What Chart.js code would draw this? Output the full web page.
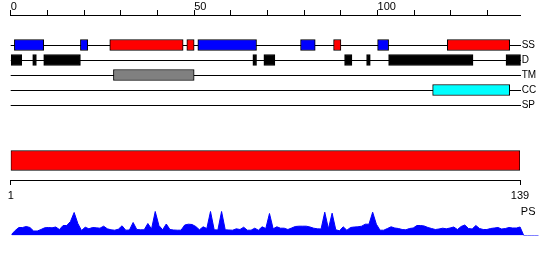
<!DOCTYPE html>
<html>
<head>
<meta charset="utf-8">
<script src="https://cdn.jsdelivr.net/npm/chart.js@4.4.1/dist/chart.umd.min.js"></script>
<style>
  html, body { margin: 0; padding: 0; background: #fff; }
  #wrap { position: relative; width: 550px; height: 260px; }
  canvas { position: absolute; left: 0; }
</style>
</head>
<body>
<div id="wrap">
  <canvas id="tracks" width="550" height="112" style="top:0"></canvas>
  <canvas id="chain" width="550" height="65" style="top:140px"></canvas>
  <canvas id="ps" width="550" height="45" style="top:200px"></canvas>
</div>
<script>
// ruler on top of the feature tracks
const rulerTicks = [0, 10, 20, 30, 40, 50, 60, 70, 80, 90, 100, 110, 120, 130];
const rulerLabels = [0, 50, 100];

// feature tracks (two blank rows keep the gap under the ruler)
const trackLabels = ['', '', 'SS', 'D', 'TM', 'CC', 'SP'];
const ssHelix = [[27, 47], [48, 50], [88, 90], [119, 136]];
const ssStrand = [[1, 9], [19, 21], [51, 67], [79, 83], [100, 103]];
const disorder = [[0, 3], [6, 7], [9, 19], [66, 67], [69, 72], [91, 93], [97, 98], [103, 126], [135, 139]];
const transmembrane = [[28, 50]];
const coiledCoil = [[115, 136]];
const signalPeptide = [];

// whole chain bar
const chainRange = [1, 139];
const chainTicks = [1, 139];

// PS profile, one value per residue (trailing zeros after the chain end)
const psLabel = 'PS';
const psValues = [
	1, 5, 8, 8, 9, 8, 4.5, 4.5, 6, 7.7,
	8, 7.7, 8.5, 6, 10, 10, 14, 23, 12, 5,
	8.3, 6.7, 8, 7.7, 7.3, 9.3, 6.7, 5.7, 5.3, 6.3,
	9.7, 5.3, 5.5, 13, 6, 5.7, 5.7, 12, 6.5, 24,
	10, 5.7, 11.5, 6, 5.5, 5.3, 5.3, 10.5, 11.3, 11,
	9, 5.7, 8.7, 7, 24, 5.7, 5.5, 24, 5.7, 5.5,
	5.3, 6.7, 6, 8.3, 5.3, 5.3, 7.3, 5.3, 8.7, 7,
	22, 6.7, 8.7, 7.3, 7.3, 6, 7.5, 9, 9.3, 9.3,
	9.3, 8.5, 7.3, 6.7, 6.5, 23.3, 6.7, 22.3, 5.7, 4.7,
	8.7, 5.3, 8, 8.5, 8.7, 9.3, 11.3, 11.3, 23.3, 11.3,
	5.3, 5.3, 7, 8.7, 7.5, 7, 6, 5.7, 7, 7.5,
	10, 10, 9.5, 8, 7, 6, 6.5, 7.3, 6.7, 7.5,
	8.5, 6, 9, 10.5, 7, 6.5, 10, 7, 6, 6,
	7, 7.5, 8, 6.5, 7, 8, 7.5, 7.5, 8.5, 0,
	0, 0, 0, 0
];

Chart.defaults.font.family = "'Liberation Sans', Arial, sans-serif";
Chart.defaults.font.size = 10;
Chart.defaults.color = '#000';
Chart.defaults.animation = false;
Chart.defaults.plugins.legend.display = false;
Chart.defaults.plugins.tooltip.enabled = false;

function segments (list, track) {
	return list.map(s => ({ x: s, y: track }));
}

function trackSet (list, track, color) {
	return {
		data: segments(list, track),
		backgroundColor: color,
		borderColor: '#000',
		borderWidth: 1,
		borderSkipped: false,
		barThickness: 11,
		grouped: false
	};
}

new Chart(document.getElementById('tracks'), {
	type: 'bar',
	data: {
		labels: trackLabels,
		datasets: [
			trackSet(ssStrand, 'SS', '#0000ff'),
			trackSet(ssHelix, 'SS', '#ff0000'),
			trackSet(disorder, 'D', '#000000'),
			trackSet(transmembrane, 'TM', '#808080'),
			trackSet(coiledCoil, 'CC', '#00ffff'),
			trackSet(signalPeptide, 'SP', '#ffff00')
		]
	},
	options: {
		responsive: false,
		indexAxis: 'y',
		layout: { padding: { left: 10.7, right: 0, top: 0, bottom: 7 } },
		scales: {
			x: {
				type: 'linear',
				position: 'top',
				min: 0,
				max: 139,
				afterBuildTicks: scale => { scale.ticks = rulerTicks.map(v => ({ value: v })); },
				afterFit: scale => { scale.height = 15; },
				grid: { drawOnChartArea: false, color: '#000', tickLength: 5 },
				border: { color: '#000' },
				ticks: {
					align: 'start',
					padding: -4,
					autoSkip: false,
					maxRotation: 0,
					font: { size: 11 },
					callback: v => rulerLabels.includes(v) ? String(v) : ''
				}
			},
			y: {
				type: 'category',
				position: 'right',
				offset: false,
				afterFit: scale => { scale.width = 29.3; },
				grid: {
					offset: false,
					drawTicks: false,
					color: ctx => ctx.index >= 2 ? '#000' : 'rgba(0,0,0,0)'
				},
				border: { display: false },
				ticks: { padding: 1, autoSkip: false }
			}
		}
	}
});

new Chart(document.getElementById('chain'), {
	type: 'bar',
	data: {
		labels: ['chain'],
		datasets: [{
			data: [{ x: chainRange, y: 'chain' }],
			backgroundColor: '#ff0000',
			borderColor: '#000',
			borderWidth: 1,
			borderSkipped: false,
			barThickness: 20
		}]
	},
	options: {
		responsive: false,
		indexAxis: 'y',
		layout: { padding: { left: 10.7, right: 30, top: 1, bottom: 0 } },
		scales: {
			x: {
				type: 'linear',
				position: 'bottom',
				min: chainRange[0],
				max: chainRange[1],
				afterBuildTicks: scale => { scale.ticks = chainTicks.map(v => ({ value: v })); },
				afterFit: scale => { scale.height = 25; },
				grid: { drawOnChartArea: false, color: '#000', tickLength: 5 },
				border: { color: '#000' },
				ticks: { padding: 4, autoSkip: false, maxRotation: 0, font: { size: 11 } }
			},
			y: { display: false }
		}
	}
});

new Chart(document.getElementById('ps'), {
	type: 'line',
	data: {
		labels: psValues.map((_, i) => i + 1),
		datasets: [{
			data: psValues,
			borderColor: '#0000ff',
			backgroundColor: '#0000ff',
			borderWidth: 1,
			fill: 'origin',
			pointRadius: 0,
			tension: 0
		}]
	},
	options: {
		responsive: false,
		layout: { padding: { left: 11.5, right: 0, top: 10.5, bottom: 9.5 } },
		scales: {
			x: { display: false },
			y: {
				position: 'right',
				min: 0,
				max: 25,
				afterBuildTicks: scale => { scale.ticks = [{ value: 24 }]; },
				afterFit: scale => { scale.width = 11.5; },
				grid: { display: false },
				border: { display: false },
				ticks: {
					mirror: true,
					crossAlign: 'far',
					padding: -3,
					callback: () => psLabel,
					font: { size: 11 }
				}
			}
		}
	}
});
</script>
</body>
</html>
